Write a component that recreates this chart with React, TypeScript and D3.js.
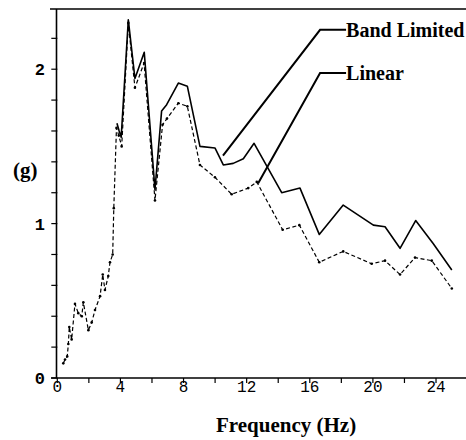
import React from 'react';
import * as d3 from 'd3';

// frequency (Hz) and acceleration (g)
const linearFreq = [0.38, 0.49, 0.63, 0.7, 0.76, 0.91, 1.12, 1.33, 1.55, 1.65, 1.97, 2.18, 2.39, 2.71, 2.88, 3.02, 3.23, 3.34, 3.51, 3.58, 3.75, 3.9, 4.08, 4.5, 4.92, 5.5, 6.19, 6.67, 6.95, 7.67, 8.24, 9.04, 9.99, 11.05, 12.1, 12.64, 14.28, 15.34, 16.6, 18.12, 19.92, 20.77, 21.72, 22.67, 23.73, 25.0];
const linearG = [0.095, 0.12, 0.14, 0.22, 0.33, 0.25, 0.48, 0.42, 0.4, 0.49, 0.31, 0.36, 0.44, 0.53, 0.67, 0.57, 0.66, 0.75, 0.8, 1.1, 1.62, 1.57, 1.5, 2.3, 1.88, 2.04, 1.15, 1.64, 1.68, 1.78, 1.76, 1.38, 1.3, 1.19, 1.23, 1.27, 0.96, 0.99, 0.75, 0.82, 0.74, 0.76, 0.67, 0.78, 0.76, 0.58];

const bandFreq = [3.78, 3.92, 4.05, 4.5, 4.92, 5.51, 6.19, 6.61, 6.93, 7.67, 8.24, 9.04, 9.99, 10.52, 11.15, 11.79, 12.47, 14.22, 15.38, 16.6, 18.12, 20.03, 20.77, 21.72, 22.71, 23.83, 25.0];
const bandG = [1.65, 1.6, 1.56, 2.32, 1.94, 2.11, 1.22, 1.73, 1.77, 1.91, 1.89, 1.5, 1.49, 1.38, 1.39, 1.42, 1.52, 1.2, 1.23, 0.93, 1.12, 0.99, 0.98, 0.84, 1.02, 0.87, 0.7];

const xTicks = [0, 2, 4, 6, 8, 10, 12, 14, 16, 18, 20, 22, 24];
const xLabels = [0, 4, 8, 12, 16, 20, 24];
const yTicks = [0, 0.2, 0.4, 0.6, 0.8, 1, 1.2, 1.4, 1.6, 1.8, 2, 2.2];
const yLabels = [0, 1, 2];

// legend labels with their leader line anchors (data coords)
const legendNames = ['Band Limited', 'Linear'];
const legendText = [[18.3, 2.21], [18.3, 1.93]];
const legendTip = [[10.5, 1.44], [12.72, 1.26]];

const serif = { fontFamily: "'Liberation Serif', 'DejaVu Serif', serif", fontWeight: 'bold' as const };
const mono = { fontFamily: "'Liberation Mono', 'DejaVu Sans Mono', monospace" };

export default function App() {
    const width = 466, height = 440;

    const x = d3.scaleLinear().domain([0, 26]).range([57.3, 57.3 + 26 * 15.78]);
    const y = d3.scaleLinear().domain([0, 2.39]).range([378, 9]);

    const line = d3.line<number[]>()
        .x(d => x(d[0]))
        .y(d => y(d[1]));

    const linearPts = linearFreq.map((f, i) => [f, linearG[i]]);
    const bandPts = bandFreq.map((f, i) => [f, bandG[i]]);

    const x0 = x(0), y0 = y(0), yTop = y(2.39);

    return (
        <svg width={width} height={height}
            style={{ position: 'absolute', left: 0, top: 0, background: '#fff' }}>
            {/* frame */}
            <line x1={50} x2={width} y1={yTop} y2={yTop} stroke="#000" strokeWidth={1.5} />
            <line x1={51} x2={width} y1={y0} y2={y0} stroke="#000" strokeWidth={1.5} />
            <line x1={x0 - 0.8} x2={x0 - 0.8} y1={y0} y2={yTop} stroke="#000" strokeWidth={1.6} />

            {xTicks.map(t => (
                <line key={'xt' + t} x1={x(t)} x2={x(t)} y1={y0} y2={y0 + 5} stroke="#000" strokeWidth={1.2} />
            ))}
            {xLabels.map(t => (
                <text key={'xl' + t} x={x(t)} y={392} textAnchor="middle"
                    style={mono} fontSize={16}>{t}</text>
            ))}
            {yTicks.map(t => (
                <line key={'yt' + t} x1={x0 - 6} x2={x0} y1={y(t)} y2={y(t)} stroke="#000" strokeWidth={1.2} />
            ))}
            {yLabels.map(t => (
                <text key={'yl' + t} x={45} y={y(t)} dy="0.36em" textAnchor="end"
                    style={mono} fontSize={17} fontWeight="bold">{t}</text>
            ))}

            <text x={x(14.5)} y={432} textAnchor="middle" style={serif}
                fontSize={21}>Frequency (Hz)</text>
            <text x={13} y={177} style={serif} fontSize={21}>(g)</text>

            {/* series */}
            <path d={line(linearPts) || ''} fill="none" stroke="#000"
                strokeWidth={1.2} strokeDasharray="4,2.5" />
            {linearPts.map((d, i) => (
                <circle key={'lp' + i} cx={x(d[0])} cy={y(d[1])} r={1.3} fill="#000" />
            ))}
            <path d={line(bandPts) || ''} fill="none" stroke="#000"
                strokeWidth={1.6} strokeLinejoin="round" />

            {/* legend leaders */}
            {legendNames.map((name, i) => {
                const tx = x(legendText[i][0]), ty = y(legendText[i][1]);
                const ly = ty - 7;
                return (
                    <g key={name}>
                        <path d={`M${tx},${ly}H${tx - 26}L${x(legendTip[i][0])},${y(legendTip[i][1])}`}
                            fill="none" stroke="#000" strokeWidth={2} />
                        <text x={tx} y={ty} style={serif} fontSize={20}>{name}</text>
                    </g>
                );
            })}
        </svg>
    );
}
